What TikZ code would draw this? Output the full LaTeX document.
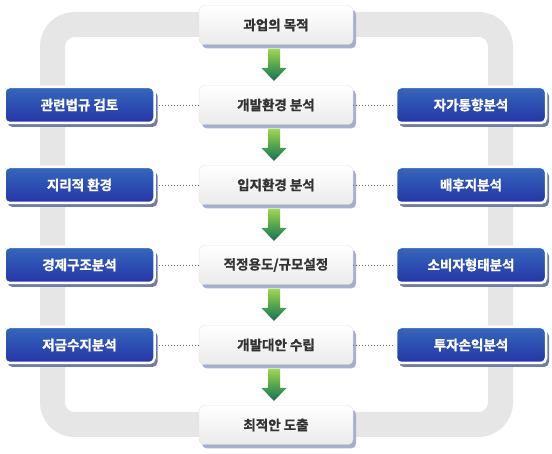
\documentclass[tikz,border=0pt]{standalone}
\usepackage{fontspec}
\newfontfamily\krfont{Noto Sans CJK KR Bold}[FakeBold=1.2]
\usetikzlibrary{calc, shadows}
\definecolor{framegray}{HTML}{E6E6E6}
\definecolor{boxbottom}{HTML}{EBEBEB}
\definecolor{boxline}{HTML}{E2E2E2}
\definecolor{boxshadow}{HTML}{A6AED2}
\definecolor{blueshadow}{HTML}{707CA8}
\definecolor{bluetop}{HTML}{3568BC}
\definecolor{bluebottom}{HTML}{2435A8}
\definecolor{greentop}{HTML}{9AD94A}
\definecolor{greenbottom}{HTML}{137055}
\definecolor{textgray}{HTML}{333333}

\begin{document}
\begin{tikzpicture}[x=1pt, y=-1pt,
    mainbox/.style={rounded corners=5pt, minimum width=154pt, minimum height=39pt,
      top color=white, bottom color=boxbottom, draw=boxline, text=textgray,
      font=\krfont\fontsize{13.5}{15}\selectfont,
      general shadow={fill=boxshadow, shadow xshift=3pt, shadow yshift=-4pt}},
    sidebox/.style={rounded corners=5pt, minimum width=150pt, minimum height=36pt,
      top color=bluetop, bottom color=bluebottom, draw=white, line width=2.5pt,
      text=white, font=\krfont\fontsize{13.5}{15}\selectfont,
      general shadow={fill=blueshadow, shadow xshift=3pt, shadow yshift=-4pt}},
    link/.style={gray!80!black, line width=0.6pt, dash pattern=on 1pt off 2pt},
    greenarrow/.style={top color=greentop, bottom color=greenbottom}]
  \useasboundingbox (0,0) rectangle (552,454);
  % gray loop behind the flow
  \draw[framegray, line width=25pt, rounded corners=22pt] (52.5,24.5) rectangle (500.5,424.5);

  % main flow
  \foreach \name/\y/\txt in {goal/25/과업의 목적, devenv/105/개발환경 분석,
      site/185/입지환경 분석, usage/265/{적정용도/규모설정},
      alt/345/개발대안 수립, best/425/최적안 도출}
    \node[mainbox] (\name) at (276,\y) {\txt};

  % side analyses
  \foreach \name/\y/\txt in {law/105/관련법규 검토, geo/185/지리적 환경,
      econ/265/경제구조분석, fund/345/저금수지분석}
    \node[sidebox] (\name) at (79.5,\y) {\txt};
  \foreach \name/\y/\txt in {selfmkt/105/자가통향분석, hinter/185/배후지분석,
      consumer/265/소비자형태분석, invest/345/투자손익분석}
    \node[sidebox] (\name) at (471,\y) {\txt};

  \foreach \a/\b in {law/devenv, geo/site, econ/usage, fund/alt,
      devenv/selfmkt, site/hinter, usage/consumer, alt/invest}
    \draw[link] (\a) -- (\b);

  % green arrows
  \foreach \a/\b in {goal/devenv, devenv/site, site/usage, usage/alt, alt/best}{
    \begin{scope}[shift={($(\a.south)!0.5!(\b.north)$)}]
      \shade[greenarrow] (-8,-16) -- (4,-16) -- (4,3) -- (10.5,3) -- (-2,16)
        -- (-14.5,3) -- (-8,3) -- cycle;
    \end{scope}}
\end{tikzpicture}
\end{document}
